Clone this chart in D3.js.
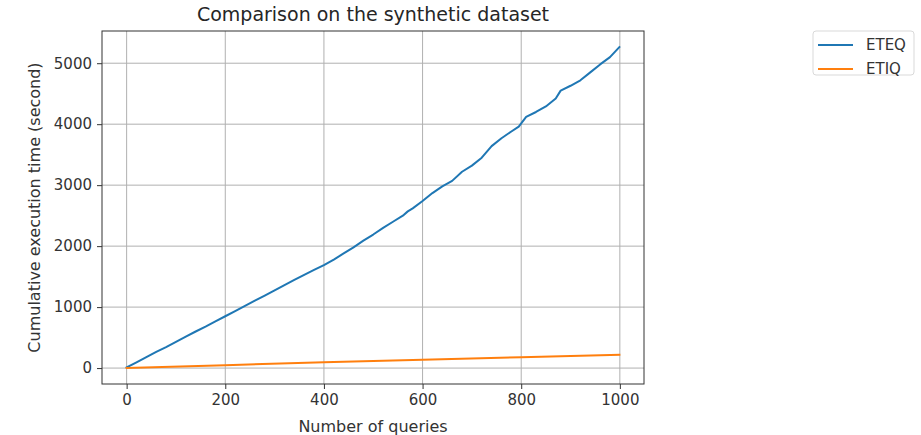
<!DOCTYPE html>
<html lang="en">
  <head>
    <meta charset="utf-8" />
    <title>Comparison on the synthetic dataset</title>
    <script src="https://d3js.org/d3.v7.min.js"></script>
    <style>
      body {
        margin: 0;
        background: #fff;
        font-family: "DejaVu Sans", sans-serif;
      }
      .grid line {
        stroke: #b0b0b0;
        stroke-width: 1px;
      }
      .tick text {
        fill: #333;
      }
    </style>
  </head>
  <body>
    <svg id="chart" width="921" height="435"></svg>
    <script>
      // values
      const eteqQueries = [
        0, 20, 40, 60, 80, 100, 120, 140, 160, 180, 200, 220, 240, 260, 280,
        300, 320, 340, 360, 380, 400, 420, 440, 460, 480, 500, 520, 540, 560,
        570, 580, 600, 620, 640, 660, 680, 700, 720, 740, 760, 780, 795, 810,
        830, 850, 870, 880, 900, 920, 940, 960, 980, 999,
      ];
      const eteqTime = [
        10, 95, 180, 265, 345, 430, 515, 600, 680, 765, 850, 935, 1020, 1105,
        1190, 1275, 1360, 1445, 1530, 1610, 1690, 1780, 1880, 1980, 2090, 2190,
        2300, 2400, 2500, 2570, 2620, 2740, 2870, 2980, 3070, 3220, 3320, 3450,
        3640, 3770, 3880, 3960, 4120, 4200, 4290, 4420, 4550, 4630, 4720, 4850,
        4980, 5100, 5265,
      ];
      const etiqQueries = [0, 200, 400, 600, 800, 999];
      const etiqTime = [2, 48, 95, 135, 178, 218];

      const seriesNames = ["ETEQ", "ETIQ"];
      const seriesColors = ["#1f77b4", "#ff7f0e"];
      const xTicks = [0, 200, 400, 600, 800, 1000];
      const yTicks = [0, 1000, 2000, 3000, 4000, 5000];

      const series = [
        { name: seriesNames[0], xs: eteqQueries, ys: eteqTime },
        { name: seriesNames[1], xs: etiqQueries, ys: etiqTime },
      ];

      const svg = d3.select("#chart");
      const plot = { left: 102, right: 644, top: 31, bottom: 384 };

      // matplotlib style 5% margins around the data
      const pad = ([a, b]) => [a - (b - a) * 0.05, b + (b - a) * 0.05];
      const allX = series.flatMap((s) => s.xs);
      const allY = series.flatMap((s) => s.ys);

      const x = d3
        .scaleLinear()
        .domain(pad(d3.extent(allX)))
        .range([plot.left, plot.right]);
      const y = d3
        .scaleLinear()
        .domain(pad(d3.extent(allY)))
        .range([plot.bottom, plot.top]);

      // grid
      const grid = svg.append("g").attr("class", "grid");
      grid
        .selectAll(".gx")
        .data(xTicks)
        .join("line")
        .attr("x1", (d) => x(d))
        .attr("x2", (d) => x(d))
        .attr("y1", plot.top)
        .attr("y2", plot.bottom);
      grid
        .selectAll(".gy")
        .data(yTicks)
        .join("line")
        .attr("y1", (d) => y(d))
        .attr("y2", (d) => y(d))
        .attr("x1", plot.left)
        .attr("x2", plot.right);

      // lines
      const line = d3
        .line()
        .x((d) => x(d[0]))
        .y((d) => y(d[1]));

      series.forEach((s, i) => {
        svg
          .append("path")
          .datum(d3.zip(s.xs, s.ys))
          .attr("d", line)
          .attr("fill", "none")
          .attr("stroke", seriesColors[i])
          .attr("stroke-width", 2)
          .attr("stroke-linejoin", "round")
          .attr("stroke-linecap", "square");
      });

      // axes
      const fmt = d3.format("d");
      const xAxis = svg
        .append("g")
        .attr("transform", `translate(0,${plot.bottom})`)
        .call(
          d3.axisBottom(x).tickValues(xTicks).tickFormat(fmt).tickSize(5).tickPadding(5)
        );
      const yAxis = svg
        .append("g")
        .attr("transform", `translate(${plot.left},0)`)
        .call(
          d3.axisLeft(y).tickValues(yTicks).tickFormat(fmt).tickSize(5).tickPadding(5)
        );

      [xAxis, yAxis].forEach((g) => {
        g.select(".domain").remove();
        g.selectAll(".tick line").attr("stroke", "#333");
        g.selectAll(".tick text")
          .attr("font-family", "DejaVu Sans")
          .attr("font-size", 15);
      });

      // frame
      svg
        .append("rect")
        .attr("x", plot.left)
        .attr("y", plot.top)
        .attr("width", plot.right - plot.left)
        .attr("height", plot.bottom - plot.top)
        .attr("fill", "none")
        .attr("stroke", "#333")
        .attr("stroke-width", 1);

      // title and labels
      svg
        .append("text")
        .attr("x", (plot.left + plot.right) / 2)
        .attr("y", 21)
        .attr("text-anchor", "middle")
        .attr("font-size", 19)
        .attr("fill", "#262626")
        .text("Comparison on the synthetic dataset");

      svg
        .append("text")
        .attr("x", (plot.left + plot.right) / 2)
        .attr("y", 432)
        .attr("text-anchor", "middle")
        .attr("font-size", 16)
        .attr("fill", "#333")
        .text("Number of queries");

      svg
        .append("text")
        .attr("transform", `translate(40,${(plot.top + plot.bottom) / 2}) rotate(-90)`)
        .attr("text-anchor", "middle")
        .attr("font-size", 16)
        .attr("fill", "#333")
        .text("Cumulative execution time (second)");

      // legend
      const legend = svg.append("g").attr("transform", "translate(813,31)");
      legend
        .append("rect")
        .attr("width", 101)
        .attr("height", 44)
        .attr("rx", 3)
        .attr("fill", "#fff")
        .attr("stroke", "#d9d9d9");
      const item = legend
        .selectAll(".item")
        .data(seriesNames)
        .join("g")
        .attr("transform", (d, i) => `translate(0,${14 + i * 24})`);
      item
        .append("line")
        .attr("x1", 5)
        .attr("x2", 40)
        .attr("stroke", (d, i) => seriesColors[i])
        .attr("stroke-width", 2);
      item
        .append("text")
        .attr("x", 53)
        .attr("dy", "0.35em")
        .attr("font-size", 15)
        .attr("fill", "#333")
        .text((d) => d);
    </script>
  </body>
</html>
